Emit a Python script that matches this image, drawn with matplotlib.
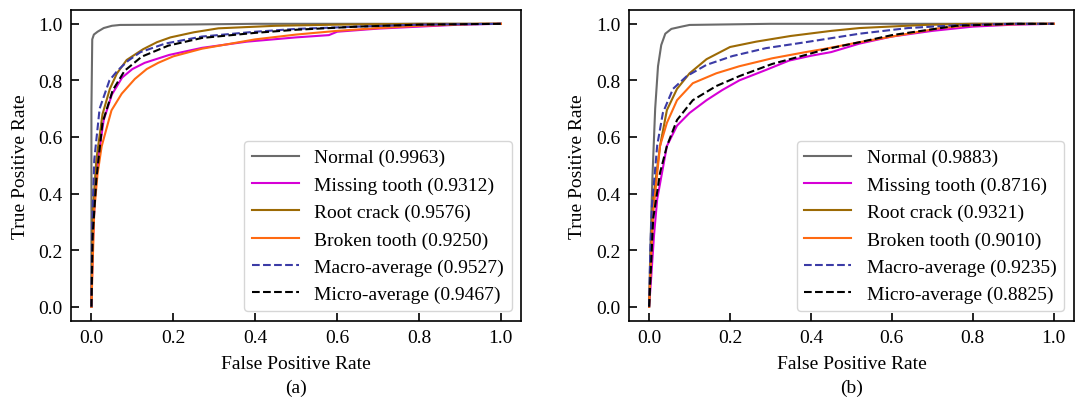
import matplotlib
matplotlib.use("Agg")
import matplotlib.pyplot as plt

plt.rcParams['font.family'] = 'serif'
plt.rcParams['font.serif'] = ['Liberation Serif', 'DejaVu Serif']
plt.rcParams['font.size'] = 14

class_names = ['Normal', 'Missing tooth', 'Root crack', 'Broken tooth',
               'Macro-average', 'Micro-average']
colors = ['#6b6b6b', '#d600d6', '#9c6a05', '#ff6a12', '#3b3ba6', 'black']
styles = ['-', '-', '-', '-', '--', '--']

# ---- panel (a) ----
auc_a = [0.9963, 0.9312, 0.9576, 0.9250, 0.9527, 0.9467]
normal_a_fpr = [0, 0.0, 0.002, 0.006, 0.015, 0.03, 0.05, 0.07, 0.2, 0.4, 1.0]
normal_a_tpr = [0, 0.7, 0.945, 0.962, 0.972, 0.985, 0.993, 0.996, 0.997, 1.0, 1.0]
missing_a_fpr = [0, 0.003, 0.008, 0.015, 0.03, 0.05, 0.075, 0.1, 0.13, 0.19, 0.27, 0.38,
                 0.5, 0.58, 0.6, 0.7, 0.8, 0.9, 1.0]
missing_a_tpr = [0, 0.2, 0.38, 0.51, 0.66, 0.75, 0.81, 0.84, 0.862, 0.89, 0.915, 0.937,
                 0.952, 0.96, 0.972, 0.983, 0.99, 0.997, 1.0]
root_a_fpr = [0, 0.003, 0.012, 0.027, 0.045, 0.062, 0.086, 0.126, 0.16, 0.193, 0.25, 0.31,
              0.45, 0.6, 0.8, 1.0]
root_a_tpr = [0, 0.33, 0.52, 0.68, 0.77, 0.824, 0.872, 0.91, 0.935, 0.952, 0.97, 0.984,
              0.993, 0.997, 1.0, 1.0]
broken_a_fpr = [0, 0.003, 0.007, 0.015, 0.025, 0.049, 0.074, 0.106, 0.135, 0.163, 0.2, 0.27,
                0.4, 0.5, 0.6, 0.7, 0.8, 0.95, 1.0]
broken_a_tpr = [0, 0.15, 0.34, 0.47, 0.567, 0.694, 0.753, 0.805, 0.84, 0.862, 0.885, 0.912,
                0.945, 0.962, 0.975, 0.985, 0.993, 1.0, 1.0]
macro_a_fpr = [0, 0.002, 0.007, 0.02, 0.044, 0.064, 0.09, 0.12, 0.18, 0.27, 0.4, 0.5,
               0.65, 0.8, 1.0]
macro_a_tpr = [0, 0.3, 0.52, 0.7, 0.8, 0.835, 0.87, 0.9, 0.93, 0.955, 0.972, 0.982,
               0.99, 0.997, 1.0]
micro_a_fpr = [0, 0.003, 0.012, 0.027, 0.052, 0.081, 0.123, 0.188, 0.27, 0.4, 0.5, 0.65,
               0.8, 1.0]
micro_a_tpr = [0, 0.25, 0.45, 0.65, 0.765, 0.834, 0.884, 0.923, 0.95, 0.968, 0.979, 0.99,
               0.997, 1.0]

# ---- panel (b) ----
auc_b = [0.9883, 0.8716, 0.9321, 0.9010, 0.9235, 0.8825]
normal_b_fpr = [0, 0.003, 0.008, 0.015, 0.022, 0.03, 0.04, 0.055, 0.08, 0.1, 0.3, 1.0]
normal_b_tpr = [0, 0.2, 0.45, 0.7, 0.85, 0.925, 0.965, 0.982, 0.99, 0.996, 1.0, 1.0]
missing_b_fpr = [0, 0.005, 0.012, 0.02, 0.044, 0.069, 0.1, 0.142, 0.181, 0.223, 0.289,
                 0.346, 0.4, 0.45, 0.52, 0.6, 0.7, 0.8, 0.9, 1.0]
missing_b_tpr = [0, 0.1, 0.25, 0.38, 0.568, 0.64, 0.685, 0.73, 0.766, 0.8, 0.837,
                 0.87, 0.887, 0.9, 0.93, 0.955, 0.975, 0.99, 0.997, 1.0]
root_b_fpr = [0, 0.004, 0.01, 0.027, 0.044, 0.069, 0.1, 0.142, 0.2, 0.265, 0.35, 0.45,
              0.52, 0.68, 0.8, 1.0]
root_b_tpr = [0, 0.18, 0.38, 0.568, 0.695, 0.77, 0.825, 0.875, 0.918, 0.937, 0.957, 0.975,
              0.985, 0.996, 1.0, 1.0]
broken_b_fpr = [0, 0.004, 0.01, 0.027, 0.044, 0.069, 0.108, 0.166, 0.223, 0.304, 0.387,
                0.436, 0.52, 0.6, 0.72, 0.8, 0.95, 1.0]
broken_b_tpr = [0, 0.15, 0.33, 0.568, 0.65, 0.73, 0.79, 0.825, 0.85, 0.878, 0.9,
                0.912, 0.935, 0.955, 0.985, 0.995, 1.0, 1.0]
macro_b_fpr = [0, 0.003, 0.007, 0.02, 0.034, 0.059, 0.093, 0.142, 0.206, 0.289, 0.387,
               0.52, 0.64, 0.76, 0.9, 1.0]
macro_b_tpr = [0, 0.2, 0.357, 0.57, 0.685, 0.77, 0.815, 0.855, 0.886, 0.914, 0.935,
               0.965, 0.985, 0.995, 1.0, 1.0]
micro_b_fpr = [0, 0.005, 0.01, 0.027, 0.044, 0.069, 0.108, 0.166, 0.223, 0.304, 0.387,
               0.436, 0.52, 0.6, 0.76, 0.9, 1.0]
micro_b_tpr = [0, 0.15, 0.31, 0.473, 0.568, 0.66, 0.73, 0.78, 0.815, 0.858, 0.89,
               0.91, 0.935, 0.96, 0.993, 1.0, 1.0]

curves_a = [(normal_a_fpr, normal_a_tpr), (missing_a_fpr, missing_a_tpr),
            (root_a_fpr, root_a_tpr), (broken_a_fpr, broken_a_tpr),
            (macro_a_fpr, macro_a_tpr), (micro_a_fpr, micro_a_tpr)]
curves_b = [(normal_b_fpr, normal_b_tpr), (missing_b_fpr, missing_b_tpr),
            (root_b_fpr, root_b_tpr), (broken_b_fpr, broken_b_tpr),
            (macro_b_fpr, macro_b_tpr), (micro_b_fpr, micro_b_tpr)]

fig = plt.figure(figsize=(10.75, 4.1), dpi=100)
ax_a = fig.add_axes([0.066, 0.215, 0.419, 0.759])
ax_b = fig.add_axes([0.585, 0.215, 0.414, 0.759])

for ax, curves, aucs, tag in [(ax_a, curves_a, auc_a, '(a)'), (ax_b, curves_b, auc_b, '(b)')]:
    for (fpr, tpr), name, auc, c, ls in zip(curves, class_names, aucs, colors, styles):
        ax.plot(fpr, tpr, color=c, ls=ls, lw=1.5, label=f'{name} ({auc:.4f})')
    ax.set_xlim(-0.05, 1.05)
    ax.set_ylim(-0.05, 1.05)
    ax.set_xticks([0, 0.2, 0.4, 0.6, 0.8, 1.0])
    ax.set_yticks([0, 0.2, 0.4, 0.6, 0.8, 1.0])
    ax.tick_params(direction='in', length=6, width=1.2, pad=6)
    for sp in ax.spines.values():
        sp.set_linewidth(1.2)
    ax.set_xlabel('False Positive Rate', labelpad=6)
    ax.set_ylabel('True Positive Rate', labelpad=7)
    ax.legend(loc='lower right', handlelength=2.4)
    ax.text(0.5, -0.215, tag, transform=ax.transAxes, ha='center', va='center')

fig.savefig('out.png', dpi=100)
